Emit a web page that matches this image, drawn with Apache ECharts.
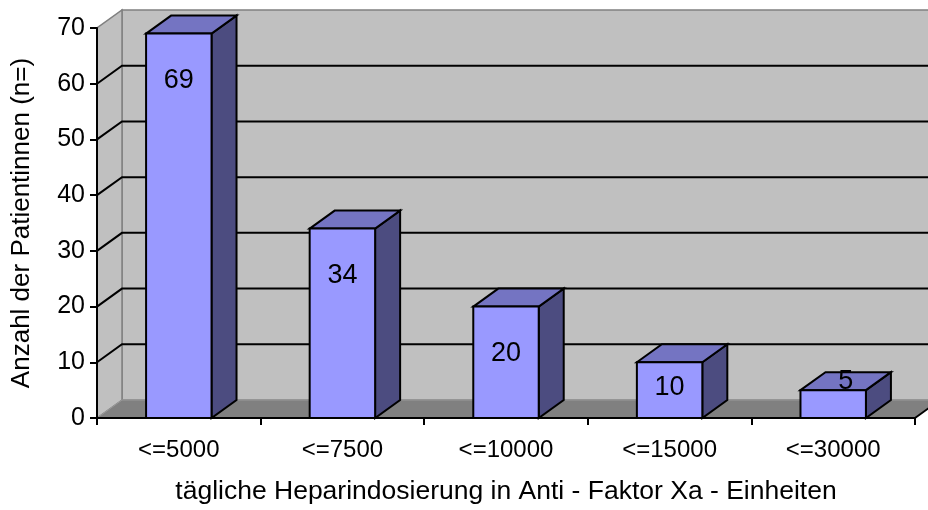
<!DOCTYPE html>
<html>
<head>
<meta charset="utf-8">
<script src="https://cdn.jsdelivr.net/npm/echarts@6/dist/echarts.min.js"></script>
<style>
  html, body { margin: 0; padding: 0; background: #fff; }
  #chart { width: 928px; height: 510px; }
</style>
</head>
<body>
<div id="chart"></div>
<script>
// Daten
const categories = ['<=5000', '<=7500', '<=10000', '<=15000', '<=30000'];
const patients = [69, 34, 20, 10, 5];
const gridValues = [10, 20, 30, 40, 50, 60];
const yMin = 0;
const yMax = 70;
const yStep = 10;

const FONT = 'Liberation Sans';
// 3D-Tiefe (Pixel)
const DX = 25;
const DY = -18;

// Wände, Boden, Gitterlinien
function renderWalls(params, api) {
  const cs = params.coordSys;
  const x0 = cs.x, x1 = cs.x + cs.width;
  const yt = cs.y, yb = cs.y + cs.height;
  const children = [
    {
      type: 'rect',
      shape: { x: x0 + DX, y: yt + DY, width: cs.width + 60, height: cs.height },
      style: { fill: '#C0C0C0', stroke: '#808080', lineWidth: 1.5 }
    },
    {
      type: 'polygon',
      shape: { points: [[x0, yb], [x0, yt], [x0 + DX, yt + DY], [x0 + DX, yb + DY]] },
      style: { fill: '#C0C0C0', stroke: '#808080', lineWidth: 1.5 }
    },
    {
      type: 'polygon',
      shape: { points: [[x0, yb], [x1, yb], [x1 + DX, yb + DY], [x0 + DX, yb + DY]] },
      style: { fill: '#808080', stroke: '#9a9a9a', lineWidth: 1 }
    },
    {
      type: 'line',
      shape: { x1: x1, y1: yb, x2: x1 + DX, y2: yb + DY },
      style: { stroke: '#000', lineWidth: 2 }
    }
  ];
  gridValues.forEach(function (v) {
    const y = api.coord([0, v])[1];
    children.push({
      type: 'polyline',
      shape: { points: [[x0, y], [x0 + DX, y + DY], [x1 + 60, y + DY]] },
      style: { stroke: '#000', lineWidth: 2, fill: null }
    });
  });
  return { type: 'group', children: children };
}

// 3D-Säulen
function renderBars(params, api) {
  const idx = api.value(0);
  const val = api.value(1);
  const top = api.coord([idx, val]);
  const base = api.coord([idx, 0]);
  const w = api.size([1, 0])[0] * 0.4;
  const xl = top[0] - w / 2, xr = top[0] + w / 2;
  const yt = top[1], yb = base[1];
  const edge = { stroke: '#000', lineWidth: 2, lineJoin: 'miter' };

  let lx, ly;
  if (yb - yt > 40) {
    lx = top[0];
    ly = Math.min(yt + 47, yb - 30);
  } else {
    lx = top[0] + DX / 2;
    ly = yt + DY / 2;
  }

  return {
    type: 'group',
    children: [
      {
        type: 'polygon',
        shape: { points: [[xr, yt], [xr + DX, yt + DY], [xr + DX, yb + DY], [xr, yb]] },
        style: Object.assign({ fill: '#4C4C80' }, edge)
      },
      {
        type: 'polygon',
        shape: { points: [[xl, yt], [xl + DX, yt + DY], [xr + DX, yt + DY], [xr, yt]] },
        style: Object.assign({ fill: '#7474C2' }, edge)
      },
      {
        type: 'rect',
        shape: { x: xl, y: yt, width: w, height: yb - yt },
        style: Object.assign({ fill: '#9999FF' }, edge)
      },
      {
        type: 'text',
        style: {
          text: String(val),
          x: lx,
          y: ly,
          align: 'center',
          verticalAlign: 'middle',
          fill: '#000',
          font: '27px "' + FONT + '"'
        }
      }
    ]
  };
}

const myChart = echarts.init(document.getElementById('chart'));
const option = {
  animation: false,
  backgroundColor: '#fff',
  grid: { left: 97, right: 13, top: 28, bottom: 86, containLabel: false },
  xAxis: {
    type: 'category',
    data: categories,
    z: 10,
    axisLine: { show: true, lineStyle: { color: '#000', width: 2 } },
    axisTick: { show: true, length: 7, lineStyle: { color: '#000', width: 2 } },
    axisLabel: { color: '#000', fontSize: 24, fontFamily: FONT, margin: 20 },
    splitLine: { show: false },
    name: 'tägliche Heparindosierung in Anti - Faktor Xa - Einheiten',
    nameLocation: 'middle',
    nameGap: 60,
    nameTextStyle: { color: '#000', fontSize: 26.5, fontFamily: FONT }
  },
  yAxis: {
    type: 'value',
    min: yMin,
    max: yMax,
    interval: yStep,
    z: 10,
    axisLine: { show: true, lineStyle: { color: '#000', width: 2 } },
    axisTick: { show: true, length: 7, lineStyle: { color: '#000', width: 2 } },
    axisLabel: { color: '#000', fontSize: 25, fontFamily: FONT, margin: 12 },
    splitLine: { show: false },
    name: 'Anzahl der Patientinnen (n=)',
    nameLocation: 'middle',
    nameGap: 62,
    nameTextStyle: { color: '#000', fontSize: 26, fontFamily: FONT }
  },
  series: [
    {
      type: 'custom',
      z: 1,
      silent: true,
      renderItem: renderWalls,
      data: [[0, 0]]
    },
    {
      type: 'custom',
      z: 2,
      renderItem: renderBars,
      data: patients.map(function (v, i) { return [i, v]; })
    }
  ]
};
option && myChart.setOption(option);
</script>
</body>
</html>
